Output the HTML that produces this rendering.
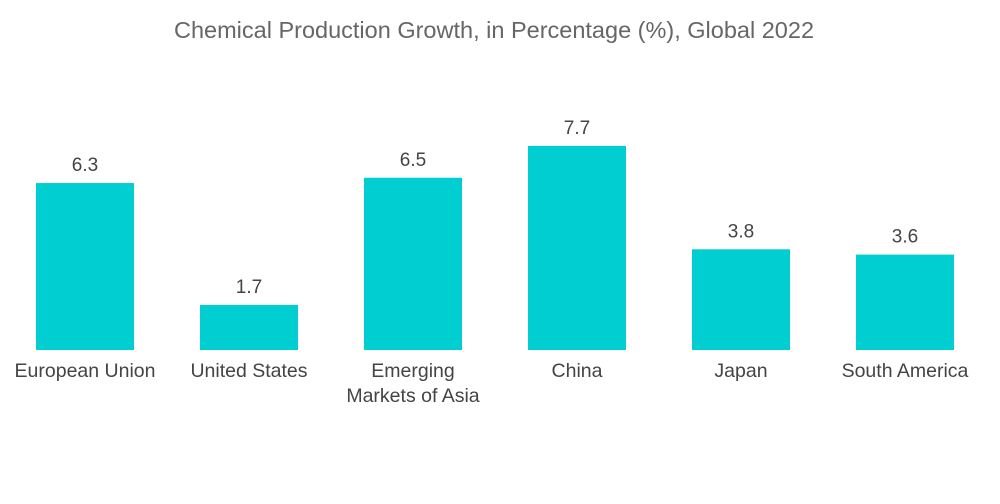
<!DOCTYPE html>
<html><head><meta charset="utf-8"><style>
html,body{margin:0;padding:0;background:#fff;}
svg{display:block;font-family:"Liberation Sans",sans-serif;}
</style></head><body>
<svg id="chart" width="1000" height="504">
<text x="494" y="38" text-anchor="middle" font-size="23.5" fill="#666">Chemical Production Growth, in Percentage (%), Global 2022</text>
<g id="bars"></g>
</svg>
<script>
const categories = [["European Union"],["United States"],["Emerging","Markets of Asia"],["China"],["Japan"],["South America"]];
const values = [6.3, 1.7, 6.5, 7.7, 3.8, 3.6];
const valueLabels = ["6.3","1.7","6.5","7.7","3.8","3.6"];
const ns = "http://www.w3.org/2000/svg";
const baseY = 350, pxPerUnit = 26.5, bandStart = 3, band = 164, barW = 98;
const xCenter = i => bandStart + band * i + band / 2;
const yScale = v => baseY - v * pxPerUnit;
const g = document.getElementById("bars");
values.forEach((v, i) => {
  const cx = xCenter(i);
  const r = document.createElementNS(ns, "rect");
  r.setAttribute("x", cx - barW / 2);
  r.setAttribute("y", yScale(v));
  r.setAttribute("width", barW);
  r.setAttribute("height", baseY - yScale(v));
  r.setAttribute("fill", "#00CED1");
  
  
  g.appendChild(r);
  const t = document.createElementNS(ns, "text");
  t.setAttribute("x", cx);
  t.setAttribute("y", yScale(v) - 12);
  t.setAttribute("text-anchor", "middle");
  t.setAttribute("font-size", "19");
  t.setAttribute("fill", "#444");
  t.textContent = valueLabels[i];
  
  
  g.appendChild(t);
  categories[i].forEach((line, j) => {
    const c = document.createElementNS(ns, "text");
    c.setAttribute("x", cx);
    c.setAttribute("y", 377 + j * 25);
    c.setAttribute("text-anchor", "middle");
    c.setAttribute("font-size", "19.5");
    c.setAttribute("fill", "#444");
    c.textContent = line;
    
    
    g.appendChild(c);
  });
});
</script>
</body></html>
